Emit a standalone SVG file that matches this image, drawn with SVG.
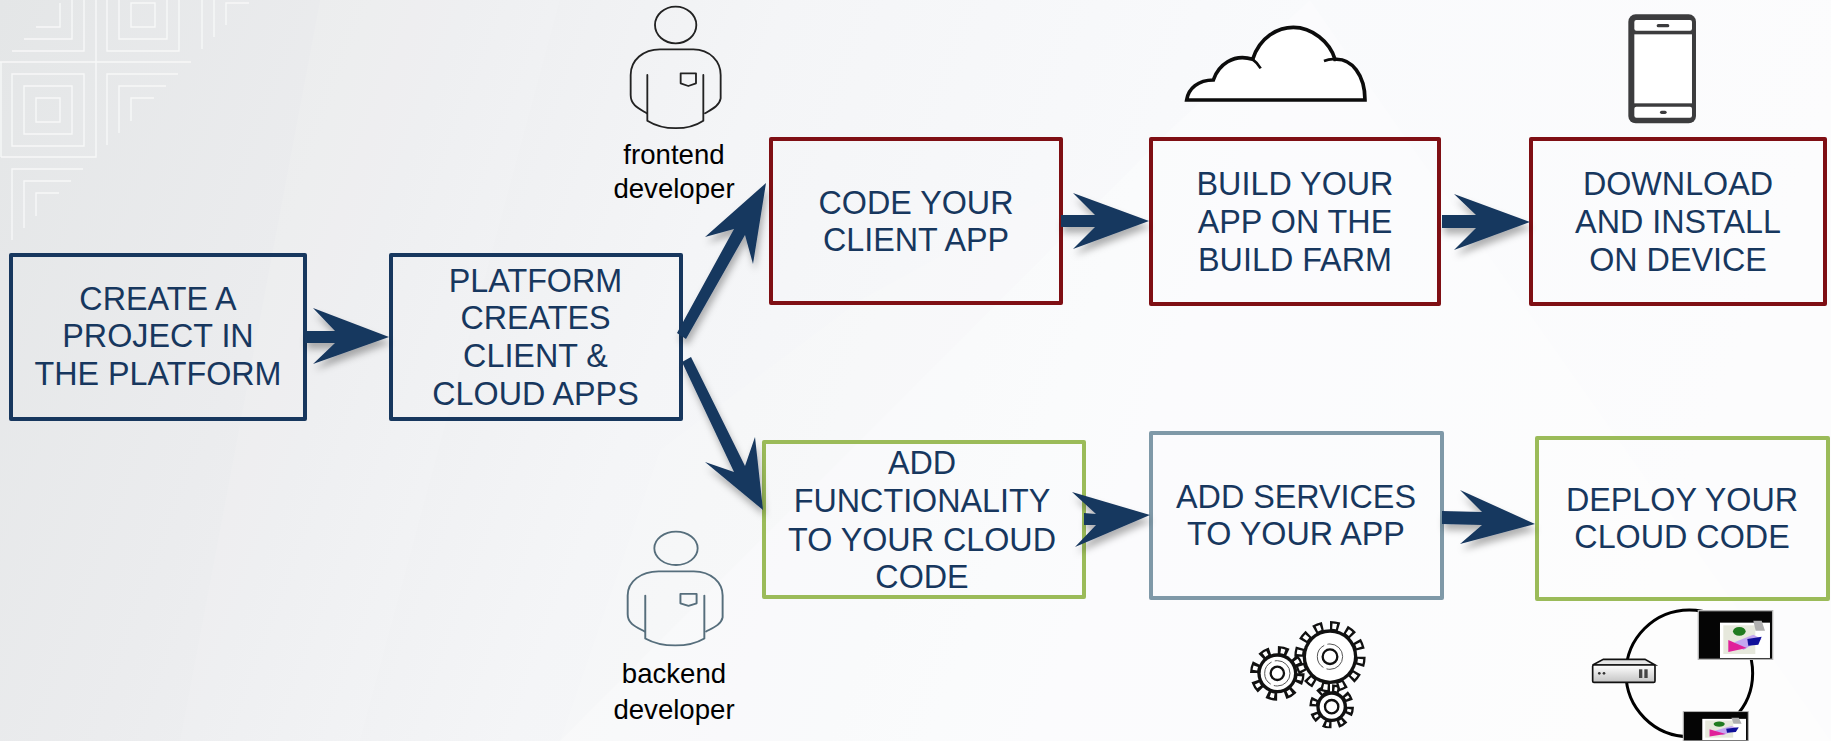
<svg xmlns="http://www.w3.org/2000/svg" width="1831" height="741" viewBox="0 0 1831 741">
<style>
.box{fill:none;stroke-width:4;stroke-linejoin:round}
.navy{stroke:#17375e}.red{stroke:#7f0f14}.green{stroke:#9bbb59}.steel{stroke:#7f99a8}
.t{font-family:"Liberation Sans",Arial,sans-serif;font-size:32.3px;fill:#17375e;text-anchor:middle}
.l{font-family:"Liberation Sans",Arial,sans-serif;font-size:27.6px;fill:#000;text-anchor:middle}
.arrow{fill:#17375e;filter:url(#sh)}
.pat{fill:none;stroke:#f7f8f8;stroke-width:1.4}
.ic{fill:none;stroke-linecap:round;stroke-linejoin:round}
.gb{fill:none;stroke:#111}
.gw{fill:none;stroke:#fff}
</style>
<defs>
<linearGradient id="bg" x1="0" y1="0" x2="1" y2="0.15">
<stop offset="0" stop-color="#e4e6e7"/><stop offset="0.2" stop-color="#ebecee"/><stop offset="0.42" stop-color="#f4f5f7"/><stop offset="0.7" stop-color="#f9fafc"/><stop offset="1" stop-color="#fcfcfd"/>
</linearGradient>
<linearGradient id="srv" x1="0" y1="0" x2="0" y2="1"><stop offset="0" stop-color="#fff"/><stop offset="1" stop-color="#c4c4c4"/></linearGradient>
<filter id="sh" x="-30%" y="-30%" width="170%" height="180%"><feDropShadow dx="2" dy="6" stdDeviation="3.5" flood-color="#000" flood-opacity="0.3"/></filter>
<g id="broken">
<rect x="0" y="0" width="223" height="146" fill="#050505" stroke="#b5b5b5" stroke-width="4"/>
<rect x="65" y="36" width="150" height="106" fill="#fff"/>
<rect x="75" y="44" width="96" height="86" fill="#e6e8dc"/>
<polygon points="165,30 190,30 200,60 172,60" fill="#b0b0b0"/>
<ellipse cx="123" cy="62" rx="19" ry="13" fill="#1f7a1f"/>
<polygon points="108,95 165,72 190,85 135,118" fill="#c4a6f0"/>
<polygon points="147,85 190,78 180,102 150,105" fill="#10109a"/>
<polygon points="90,88 145,112 90,124" fill="#e0209a"/>
</g>
<g id="person">
<path d="M140,340C115,325 92,315 92,285V225C92,180 130,148 180,148H280C330,148 362,185 362,225V295C358,318 335,328 315,340"/>
<path d="M142,225V362C190,392 265,392 310,362V225"/>
<path d="M242,220H288V250L265,258L242,250Z"/>
</g>
</defs>
<rect id="background" width="1831" height="741" fill="url(#bg)"/>
<g id="facets" stroke="none">
<polygon points="1310,0 1400,130 1831,741 560,741 1170,130" fill="#fff" opacity="0.3"/>
<polygon points="660,450 860,300 1170,130 1310,0 1831,0 1831,741 560,741" fill="#fff" opacity="0.12"/>
<polygon points="180,741 320,0 560,0 360,741" fill="#fff" opacity="0.1"/>
</g>
<g id="pattern" class="pat">
<path d="M96,0V157H1M1,62V157M0,62H191"/>
<path d="M60,3V27H36M72,0V39H24M84,0V51H12"/>
<path d="M131,3H155V27H131ZM119,0V39H167V0M107,0V51H179V0"/>
<path d="M36,98H60V122H36ZM24,86H72V134H24ZM12,74H84V146H12Z"/>
<path d="M107,145V74H178M119,133V86H166M131,121V98H154"/>
<path d="M12,240V169H83M24,228V181H71M36,216V193H59"/>
<path d="M202,0V49M214,0V37M226,25V3H249"/>
</g>
<g id="frontend-developer">
<g class="ic" stroke="#222" stroke-width="5.5" transform="translate(600,0) scale(.3333)">
<ellipse cx="227" cy="75" rx="62" ry="55"/><use href="#person"/>
</g>
<text class="l" x="674" y="164">frontend</text><text class="l" x="674" y="198">developer</text>
</g>
<g id="backend-developer">
<g class="ic" stroke="#566e7c" stroke-width="5.5" transform="translate(600,520) scale(.3333)">
<ellipse cx="228" cy="85" rx="65" ry="50"/>
<g transform="translate(-14,15) scale(1.055,.94)"><use href="#person"/></g>
</g>
<text class="l" x="674" y="683">backend</text><text class="l" x="674" y="719">developer</text>
</g>
<g id="cloud" transform="translate(1170,0) scale(.3333)">
<path d="M50,300C55,265 85,240 130,240C145,195 190,160 248,178C270,110 325,82 370,82C425,82 480,125 495,178C545,175 585,225 585,300Z" fill="#fff" stroke="#0c0c0c" stroke-width="11" stroke-linejoin="miter"/>
<path d="M248,178Q262,188 272,205M462,183Q480,176 495,178" fill="none" stroke="#0c0c0c" stroke-width="8"/>
</g>
<g id="phone" transform="translate(1580,0) scale(.3333)">
<rect x="145" y="43" width="203" height="327" rx="22" fill="#3c3c3e"/>
<rect x="163" y="60" width="173" height="32" rx="6" fill="#fff"/>
<rect x="163" y="103" width="173" height="207" fill="#fff"/>
<rect x="163" y="320" width="173" height="33" rx="6" fill="#fff"/>
<rect x="230" y="72" width="38" height="10" rx="5" fill="#3c3c3e"/>
<rect x="240" y="332" width="20" height="10" rx="5" fill="#3c3c3e"/>
</g>
<g id="gears" transform="translate(1220,600) scale(.3333)">
<clipPath id="gclip"><rect x="0" y="0" width="540" height="385"/></clipPath>
<g clip-path="url(#gclip)">
<g id="gear-bottom">
<circle cx="335" cy="320" r="46" fill="#111"/>
<circle cx="335" cy="320" r="54" class="gb" stroke-width="26" pathLength="80" stroke-dasharray="5.6 4.4"/>
<circle cx="335" cy="320" r="54" class="gw" stroke-width="12" pathLength="80" stroke-dasharray="2 8" stroke-dashoffset="-1.8"/>
<circle cx="335" cy="320" r="36" fill="#fff"/>
<circle cx="335" cy="320" r="20" fill="#fff" stroke="#111" stroke-width="7"/>
</g>
<g id="gear-left">
<circle cx="172" cy="220" r="60" fill="#111"/>
<circle cx="172" cy="220" r="68" class="gb" stroke-width="28" pathLength="80" stroke-dasharray="5.6 4.4"/>
<circle cx="172" cy="220" r="68" class="gw" stroke-width="14" pathLength="80" stroke-dasharray="2.2 7.8" stroke-dashoffset="-1.7"/>
<circle cx="172" cy="220" r="50" fill="#fff"/>
<circle cx="172" cy="220" r="20" fill="#fff" stroke="#111" stroke-width="7"/>
<circle cx="172" cy="220" r="38" fill="none" stroke="#555" stroke-width="3" stroke-dasharray="70 10 80 10"/>
</g>
<g id="gear-big">
<circle cx="330" cy="170" r="82" fill="#111"/>
<circle cx="330" cy="170" r="92" class="gb" stroke-width="30" pathLength="120" stroke-dasharray="5.6 4.4"/>
<circle cx="330" cy="170" r="92" class="gw" stroke-width="16" pathLength="120" stroke-dasharray="2.6 7.4" stroke-dashoffset="-1.5"/>
<circle cx="330" cy="170" r="72" fill="#fff"/>
<circle cx="330" cy="170" r="22" fill="#fff" stroke="#111" stroke-width="7"/>
<circle cx="330" cy="170" r="38" fill="none" stroke="#555" stroke-width="3" stroke-dasharray="70 10 80 10"/>
</g>
</g>
</g>
<g id="cloud-topology" transform="translate(1570,590) scale(.3333)">
<circle cx="358" cy="250" r="190" fill="none" stroke="#000" stroke-width="9"/>
<g transform="translate(385,62)"><use href="#broken"/></g>
<g transform="translate(340,365) scale(.875,.6)"><use href="#broken"/></g>
<polygon points="68,225 100,208 225,208 255,225" fill="#e6e6e6" stroke="#111" stroke-width="5"/>
<rect x="68" y="225" width="187" height="52" rx="4" fill="url(#srv)" stroke="#111" stroke-width="5"/>
<circle cx="88" cy="250" r="4" fill="#333"/><circle cx="102" cy="250" r="4" fill="#333"/>
<rect x="207" y="238" width="10" height="26" fill="#444"/><rect x="223" y="238" width="10" height="26" fill="#444"/>
</g>
<g id="create-project"><rect class="box navy" x="11" y="255" width="294" height="164"/><text class="t" x="158" y="310">CREATE A</text><text class="t" x="158" y="347">PROJECT IN</text><text class="t" x="158" y="385">THE PLATFORM</text></g>
<g id="platform-creates"><rect class="box navy" x="391" y="255" width="290" height="164"/><text class="t" x="535.500" y="292">PLATFORM</text><text class="t" x="535.500" y="329">CREATES</text><text class="t" x="535.500" y="367">CLIENT &amp;</text><text class="t" x="535.500" y="405">CLOUD APPS</text></g>
<g id="code-client"><rect class="box red" x="771" y="139" width="290" height="164"/><text class="t" x="916" y="214">CODE YOUR</text><text class="t" x="916" y="251">CLIENT APP</text></g>
<g id="build-farm"><rect class="box red" x="1151" y="139" width="288" height="165"/><text class="t" x="1295" y="195">BUILD YOUR</text><text class="t" x="1295" y="233">APP ON THE</text><text class="t" x="1295" y="271">BUILD FARM</text></g>
<g id="download-install"><rect class="box red" x="1531" y="139" width="294" height="165"/><text class="t" x="1678" y="195">DOWNLOAD</text><text class="t" x="1678" y="233">AND INSTALL</text><text class="t" x="1678" y="271">ON DEVICE</text></g>
<g id="add-functionality"><rect class="box green" x="764" y="442" width="320" height="155"/><text class="t" x="922" y="474">ADD</text><text class="t" x="922" y="512">FUNCTIONALITY</text><text class="t" x="922" y="551">TO YOUR CLOUD</text><text class="t" x="922" y="588">CODE</text></g>
<g id="add-services"><rect class="box steel" x="1151" y="433" width="291" height="165"/><text class="t" x="1296" y="508">ADD SERVICES</text><text class="t" x="1296" y="545">TO YOUR APP</text></g>
<g id="deploy-cloud"><rect class="box green" x="1537" y="438" width="291" height="161"/><text class="t" x="1682" y="511">DEPLOY YOUR</text><text class="t" x="1682" y="548">CLOUD CODE</text></g>
<g id="connectors">
<polygon class="arrow" points="305,331 335,331 313,308 389,337 313,364 335,343 305,343"/>
<polygon class="arrow" points="677,333 734,229 705,237 766,183 753,264 745,235 686,339"/>
<polygon class="arrow" points="682,362 691,357 745,466 755,437 763,510 705,462 734,472"/>
<polygon class="arrow" points="1061,215 1095,215 1073,193 1149,221 1073,249 1095,227 1061,227"/>
<polygon class="arrow" points="1442,215 1476,215 1454,194 1530,222 1454,250 1476,228 1442,228"/>
<polygon class="arrow" points="1084,513 1096,514 1072,492 1150,515 1075,547 1096,525 1084,525"/>
<polygon class="arrow" points="1442,511 1482,512 1460,490 1535,524 1460,544 1482,525 1442,524"/>
</g>
</svg>
